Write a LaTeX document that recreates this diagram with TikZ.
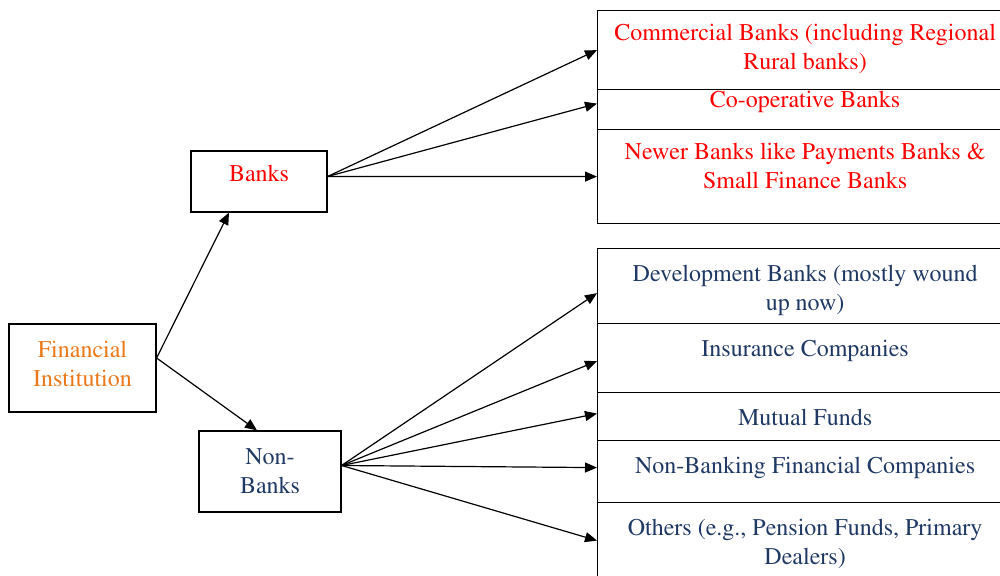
\documentclass[tikz,border=0pt]{standalone}
\usepackage[T1]{fontenc}
\usepackage{mathptmx}
\usetikzlibrary{arrows.meta}
\definecolor{instorange}{RGB}{235,120,25}
\definecolor{nbblue}{RGB}{31,56,100}
\tikzset{
  box/.style={draw, line width=0.6pt, inner sep=0pt, align=center},
  sidebox/.style={box, anchor=north west, minimum width=207.5pt},
  lbl/.style={inner sep=0pt, align=center, anchor=north, yshift=-7pt},
  nblbl/.style={lbl, text=nbblue, yshift=-1.5pt},
  link/.style={-{Triangle[length=6pt,width=5pt]}, line width=0.6pt}
}
\begin{document}
\begin{tikzpicture}[x=0.5pt, y=-0.5pt, font=\fontsize{12}{14.5}\selectfont]
			\useasboundingbox (0,0) rectangle (1000,576);
			\clip (0,0) rectangle (1000,576);

			\node(fin) [box, minimum width=73.5pt, minimum height=44pt, text depth=4pt, text=instorange] at (82.5,368) {Financial\\Institution};
			\node(banks) [box, minimum width=68pt, minimum height=30.5pt, text depth=8pt, text=red] at (259,181.5) {Banks};
			\node(nonbanks) [box, minimum width=71pt, minimum height=40.5pt, text=nbblue] at (270,471.5) {Non-\\Banks};

			% banks side
			\node(comm) [sidebox, minimum height=39.5pt] at (597,10) {};
			\node(coop) [sidebox, minimum height=20pt] at (597,89) {};
			\node(newer) [sidebox, minimum height=47pt] at (597,129) {};
			\node(commtext) [lbl, text=red] at (comm.north) {Commercial Banks (including Regional\\Rural banks)};
			\node(cooptext) [lbl, text=red, yshift=6pt] at (coop.north) {Co-operative Banks};
			\node(newertext) [lbl, text=red] at (newer.north) {Newer Banks like Payments Banks \&\\Small Finance Banks};

			% non-banks side
			\node(dev) [sidebox, minimum height=37.5pt] at (597,248) {};
			\node(ins) [sidebox, minimum height=34.5pt] at (597,323) {};
			\node(mf) [sidebox, minimum height=24pt] at (597,392) {};
			\node(nbfc) [sidebox, minimum height=31pt] at (597,440) {};
			\node(others) [sidebox, minimum height=42pt] at (597,502) {};
			\node(devtext) [nblbl] at (dev.north) {Development Banks (mostly wound\\up now)};
			\node(instext) [nblbl] at (ins.north) {Insurance Companies};
			\node(mftext) [nblbl] at (mf.north) {Mutual Funds};
			\node(nbfctext) [nblbl] at (nbfc.north) {Non-Banking Financial Companies};
			\node(otherstext) [nblbl] at (others.north) {Others (e.g., Pension Funds, Primary\\Dealers)};

			\draw[link] ([yshift=5pt]fin.east) -- ([xshift=-15pt]banks.south);
			\draw[link] ([yshift=5pt]fin.east) -- ([xshift=-6.5pt]nonbanks.north);

			\draw[link] ([yshift=2.5pt]banks.east) -- (comm.west);
			\draw[link] ([yshift=2.5pt]banks.east) -- ([yshift=3pt]coop.west);
			\draw[link] ([yshift=2.5pt]banks.east) -- (newer.west);

			\draw[link] ([yshift=3pt]nonbanks.east) -- ([yshift=-3.5pt]dev.west);
			\draw[link] ([yshift=3pt]nonbanks.east) -- ([yshift=-1.5pt]ins.west);
			\draw[link] ([yshift=3pt]nonbanks.east) -- ([yshift=1.5pt]mf.west);
			\draw[link] ([yshift=3pt]nonbanks.east) -- ([yshift=2pt]nbfc.west);
			\draw[link] ([yshift=3pt]nonbanks.east) -- ([yshift=2pt]others.west);
		\end{tikzpicture}
\end{document}
